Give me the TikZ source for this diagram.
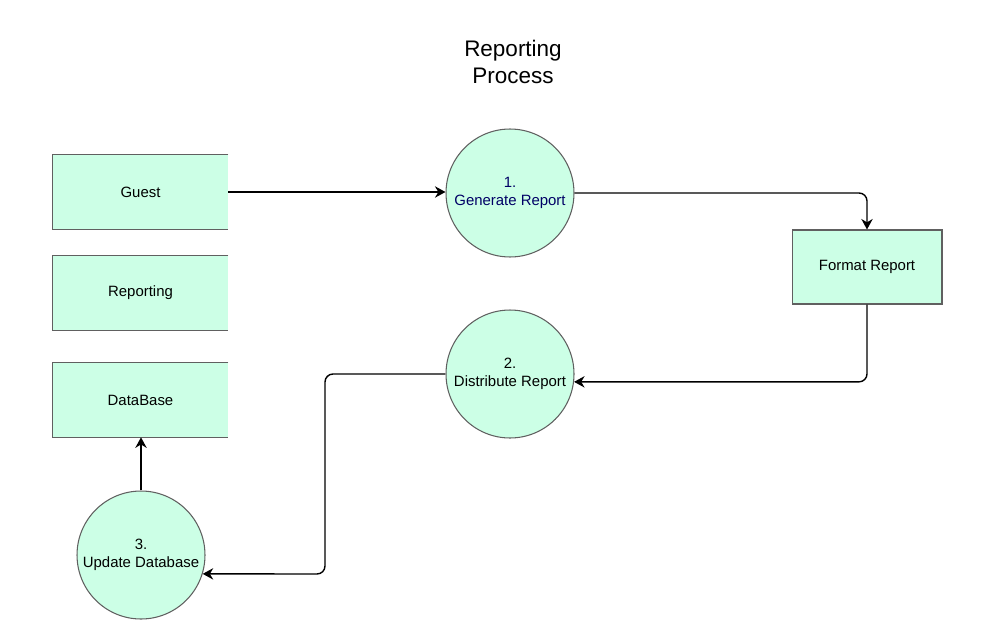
\documentclass[tikz,border=0pt]{standalone}
\usepackage{fontspec}
\setmainfont{Liberation Sans}
\usetikzlibrary{arrows.meta}
\definecolor{dfdgreen}{RGB}{204,255,230}
\definecolor{dfdline}{RGB}{96,96,96}
\definecolor{dfdnavy}{RGB}{0,0,102}
\tikzset{
  dfd/.style={
    x=0.02cm,
    y=-0.02cm,
    font=\fontsize{8.5}{10.2}\selectfont
  },
  store-fill/.style={
    fill=dfdgreen,
    minimum width=3.5cm,
    minimum height=1.48cm,
    inner sep=0pt
  },
  store-edge/.style={draw=dfdline, line width=0.6pt},
  proc-box/.style={
    store-fill,
    draw=dfdline,
    line width=0.6pt,
    minimum width=3cm
  },
  proc-circle/.style={
    circle,
    fill=dfdgreen,
    draw=dfdline,
    line width=0.6pt,
    minimum size=2.56cm,
    inner sep=0pt,
    align=center
  },
  flow/.style={
    draw=black,
    line width=0.8pt,
    rounded corners=0.16cm,
    -{Stealth[length=6pt,width=6.5pt]}
  }
}

\begin{document}
\begin{tikzpicture}[dfd]
  \useasboundingbox (0,0) rectangle (982,642);
  \node[align=center, font=\fontsize{12.8}{15.4}\selectfont] (title) at (513,62) {Reporting\\Process};
  % data stores, open on the right
  \node[store-fill] (guest) at (140.5,192) {Guest};
  \node[store-fill] (rep) at (140.5,293) {Reporting};
  \node[store-fill] (db) at (140.5,400) {DataBase};
  \foreach \s in {guest,rep,db}
    \draw[store-edge] (\s.north east) -- (\s.north west) -- (\s.south west) -- (\s.south east);
  % processes
  \node[proc-circle, text=dfdnavy] (gen) at (510,193) {1.\\Generate Report};
  \node[proc-circle] (dist) at (510,374) {2.\\Distribute Report};
  \node[proc-circle] (upd) at (141,555) {3.\\Update Database};
  \node[proc-box] (fmt) at (867,267) {Format Report};
  % flows
  \coordinate (drop) at (325,574);
  \draw[flow] (guest.east) -- (guest.east -| gen.west);
  \draw[flow] (gen.east) -| (fmt.north);
  \draw[flow] (fmt.south) |- (dist.-7);
  \draw[flow] (dist.west) -| (drop) -- (upd.-17);
  \draw[flow] (upd.north) -- (upd.north |- db.south);
\end{tikzpicture}
\end{document}
